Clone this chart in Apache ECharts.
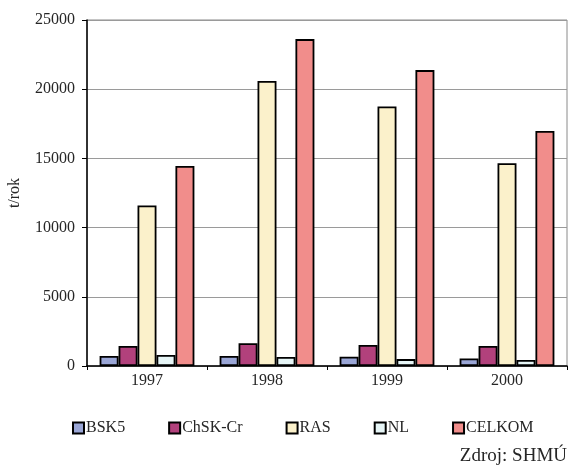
<!DOCTYPE html>
<html>
<head>
<meta charset="utf-8">
<script src="https://cdn.jsdelivr.net/npm/echarts@6/dist/echarts.min.js"></script>
<style>
  html, body { margin: 0; padding: 0; background: #fff; }
  #chart { width: 568px; height: 465px; }
</style>
</head>
<body>
<div id="chart"></div>
<script>
// Annual pollution loads (t/rok) by indicator
const years = ['1997', '1998', '1999', '2000'];
const bsk5 = [720, 720, 670, 550];
const chskCr = [1450, 1650, 1520, 1450];
const ras = [11600, 20600, 18750, 14650];
const nl = [800, 650, 500, 430];
const celkom = [14450, 23620, 21380, 16980];
const yTicks = [0, 5000, 10000, 15000, 20000, 25000];

const seriesDefs = [
  { name: 'BSK5', data: bsk5, color: '#9aa6d6' },
  { name: 'ChSK-Cr', data: chskCr, color: '#b2417c' },
  { name: 'RAS', data: ras, color: '#fbf1cb' },
  { name: 'NL', data: nl, color: '#e6f5f6' },
  { name: 'CELKOM', data: celkom, color: '#f18d8b' }
];

const font = 'Liberation Serif, Times New Roman, serif';
const textColor = '#262626';
const chart = echarts.init(document.getElementById('chart'));

chart.setOption({
  animation: false,
  backgroundColor: '#fff',
  textStyle: { fontFamily: font },
  grid: {
    left: 87, right: 1, top: 20, bottom: 99,
    outerBoundsMode: 'none',
    containLabel: false,
    show: true, borderColor: '#8a8a8a', borderWidth: 1
  },
  xAxis: {
    type: 'category',
    data: years,
    axisLine: { lineStyle: { color: '#000', width: 1.5 } },
    axisTick: { show: true, length: 4, lineStyle: { color: '#000' } },
    axisLabel: { fontFamily: font, fontSize: 16, color: textColor, margin: 7 }
  },
  yAxis: {
    type: 'value',
    min: yTicks[0],
    max: yTicks[yTicks.length - 1],
    interval: 5000,
    name: 't/rok',
    nameLocation: 'middle',
    nameGap: 64,
    nameRotate: 90,
    nameTextStyle: { fontFamily: font, fontSize: 16, color: textColor },
    axisLine: { show: true, lineStyle: { color: '#000', width: 1.5 } },
    axisTick: { show: true, length: 5, lineStyle: { color: '#000' } },
    axisLabel: {
      fontFamily: font, fontSize: 16, color: textColor, margin: 12,
      formatter: v => String(v)
    },
    splitLine: { lineStyle: { color: '#9a9a9a', width: 1 } }
  },
  legend: {
    top: 420,
    left: 72,
    padding: 0,
    itemWidth: 11,
    itemHeight: 11,
    itemGap: 43,
    icon: 'rect',
    textStyle: { fontFamily: font, fontSize: 16, color: textColor, padding: [0, 0, 0, -3] },
    data: seriesDefs.map(s => ({ name: s.name, itemStyle: { borderColor: '#000', borderWidth: 2 } }))
  },
  graphic: [{
    type: 'text',
    style: {
      x: 567, y: 456, text: 'Zdroj: SHMÚ', align: 'right', verticalAlign: 'middle',
      fontFamily: font, fontSize: 19, fill: textColor
    }
  }],
  series: seriesDefs.map(s => ({
    name: s.name,
    type: 'bar',
    data: s.data,
    barGap: '0%',
    barCategoryGap: '21%',
    itemStyle: { color: s.color, borderColor: '#000', borderWidth: 1.8 }
  }))
});
</script>
</body>
</html>
